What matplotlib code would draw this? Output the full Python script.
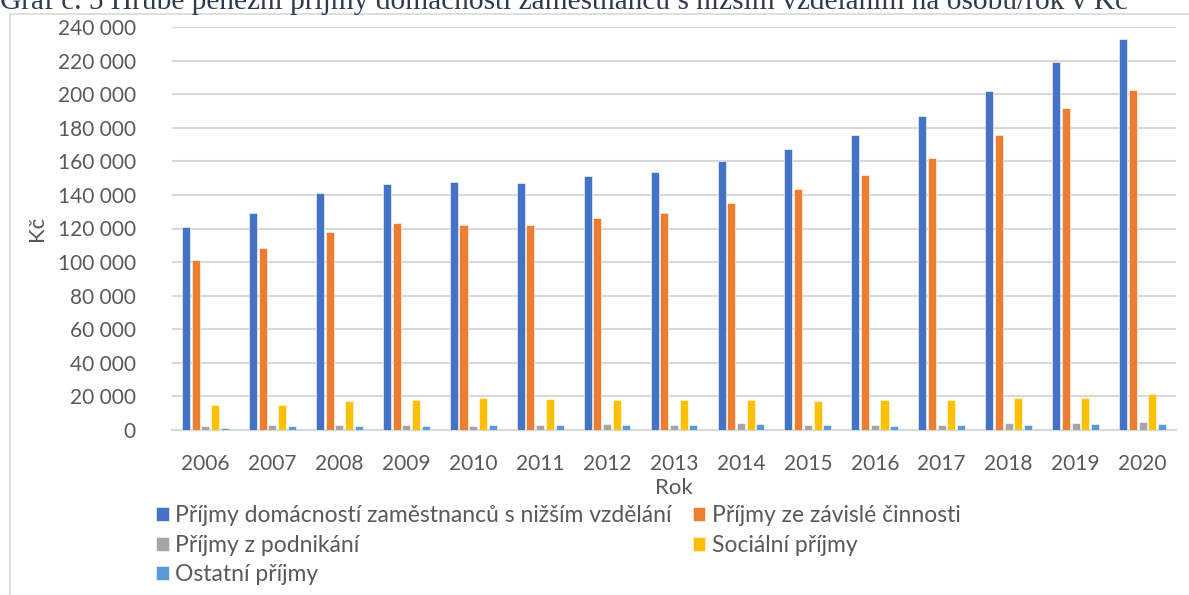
import numpy as np
import matplotlib
matplotlib.use('Agg')
from matplotlib import pyplot as plt
from matplotlib.lines import Line2D

# data (Kč per person/year)
years = ['2006', '2007', '2008', '2009', '2010', '2011', '2012', '2013',
         '2014', '2015', '2016', '2017', '2018', '2019', '2020']
celkem = [120800, 129200, 141100, 146600, 147400, 146800, 151200, 153600,
          160400, 167300, 175900, 186700, 202000, 219000, 232700]
zavisla = [101200, 108300, 118000, 123200, 122200, 121800, 126200, 129000,
           134900, 143500, 152100, 162200, 175400, 191500, 202400]
podnikani = [2200, 3000, 2800, 2800, 2600, 2800, 3600, 3200,
             4000, 3000, 3000, 3000, 4000, 4400, 5000]
socialni = [15000, 15000, 17400, 17600, 18800, 18600, 17800, 17600,
            17800, 17400, 17600, 18000, 18800, 19000, 21400]
ostatni = [1400, 2200, 2200, 2600, 2800, 2800, 3200, 3000,
           3600, 2800, 2400, 3000, 3200, 3400, 3600]

names = ['Příjmy domácností zaměstnanců s nižším vzdělání',
         'Příjmy ze závislé činnosti',
         'Příjmy z podnikání',
         'Sociální příjmy',
         'Ostatní příjmy']
colors = ['#4472C4', '#ED7D31', '#A5A5A5', '#FFC000', '#5B9BD5']
series = [celkem, zavisla, podnikani, socialni, ostatni]

plt.rcParams['font.family'] = ['Lato', 'DejaVu Sans']
txt = '#595959'

fig = plt.figure(figsize=(11.89, 5.95), dpi=100)
W, H = 1189, 595

# chart frame (only left and top edge visible)
fig.add_artist(Line2D([10 / W, 10 / W], [0, 1 - 14 / H], color='#D9D9D9', lw=1.2))
fig.add_artist(Line2D([10 / W, 1], [1 - 14 / H, 1 - 14 / H], color='#D9D9D9', lw=1.2))

# caption, cut off at the top edge as in the source
fig.text(0, 1 - 9 / H, 'Graf č. 5 Hrubé peněžní příjmy domácností zaměstnanců '
         's nižším vzděláním na osobu/rok v Kč', family='Liberation Serif',
         fontsize=21.2, color='#2E3A4E', va='baseline', ha='left')

ax = fig.add_axes([172 / W, 165 / H, (1176 - 172) / W, (568 - 165) / H])
x = np.arange(len(years))
slot = 0.145
bw = 0.12
bars = []
for i, (vals, c) in enumerate(zip(series, colors)):
    b = ax.bar(x + (i - 2) * slot, vals, bw, color=c, edgecolor='white',
               linewidth=0.4, zorder=3)
    bars.append(b)

ax.set_xlim(-0.5, len(years) - 0.5)
ax.set_ylim(0, 240000)
ax.set_yticks(np.arange(0, 240001, 20000))
ax.set_yticklabels([f'{v:,}'.replace(',', ' ') for v in range(0, 240001, 20000)])
ax.set_xticks(x)
ax.set_xticklabels(years)
ax.grid(axis='y', color='#D9D9D9', lw=1.5, zorder=0)
for s in ['top', 'right', 'left']:
    ax.spines[s].set_visible(False)
ax.spines['bottom'].set_color('#D9D9D9')
ax.spines['bottom'].set_linewidth(1.5)
ax.tick_params(axis='both', length=0, labelsize=15, colors=txt)
ax.tick_params(axis='y', pad=26)
ax.tick_params(axis='x', pad=17)
ax.set_xlabel('Rok', fontsize=16, color=txt, labelpad=3)
ax.set_ylabel('Kč', fontsize=16, color=txt, labelpad=8)

# legend filled row by row: 2 columns
order = [0, 2, 4, 1, 3]
leg = fig.legend([bars[k] for k in order], [names[k] for k in order],
                 loc='upper left', bbox_to_anchor=(156 / W, 1 - 505 / H),
                 ncol=2, frameon=False, fontsize=16.5, handlelength=0.55,
                 handleheight=0.55, handletextpad=0.3, columnspacing=0.9,
                 labelspacing=0.38, borderpad=0, borderaxespad=0)
for t in leg.get_texts():
    t.set_color(txt)

fig.savefig('out.png', dpi=100)
